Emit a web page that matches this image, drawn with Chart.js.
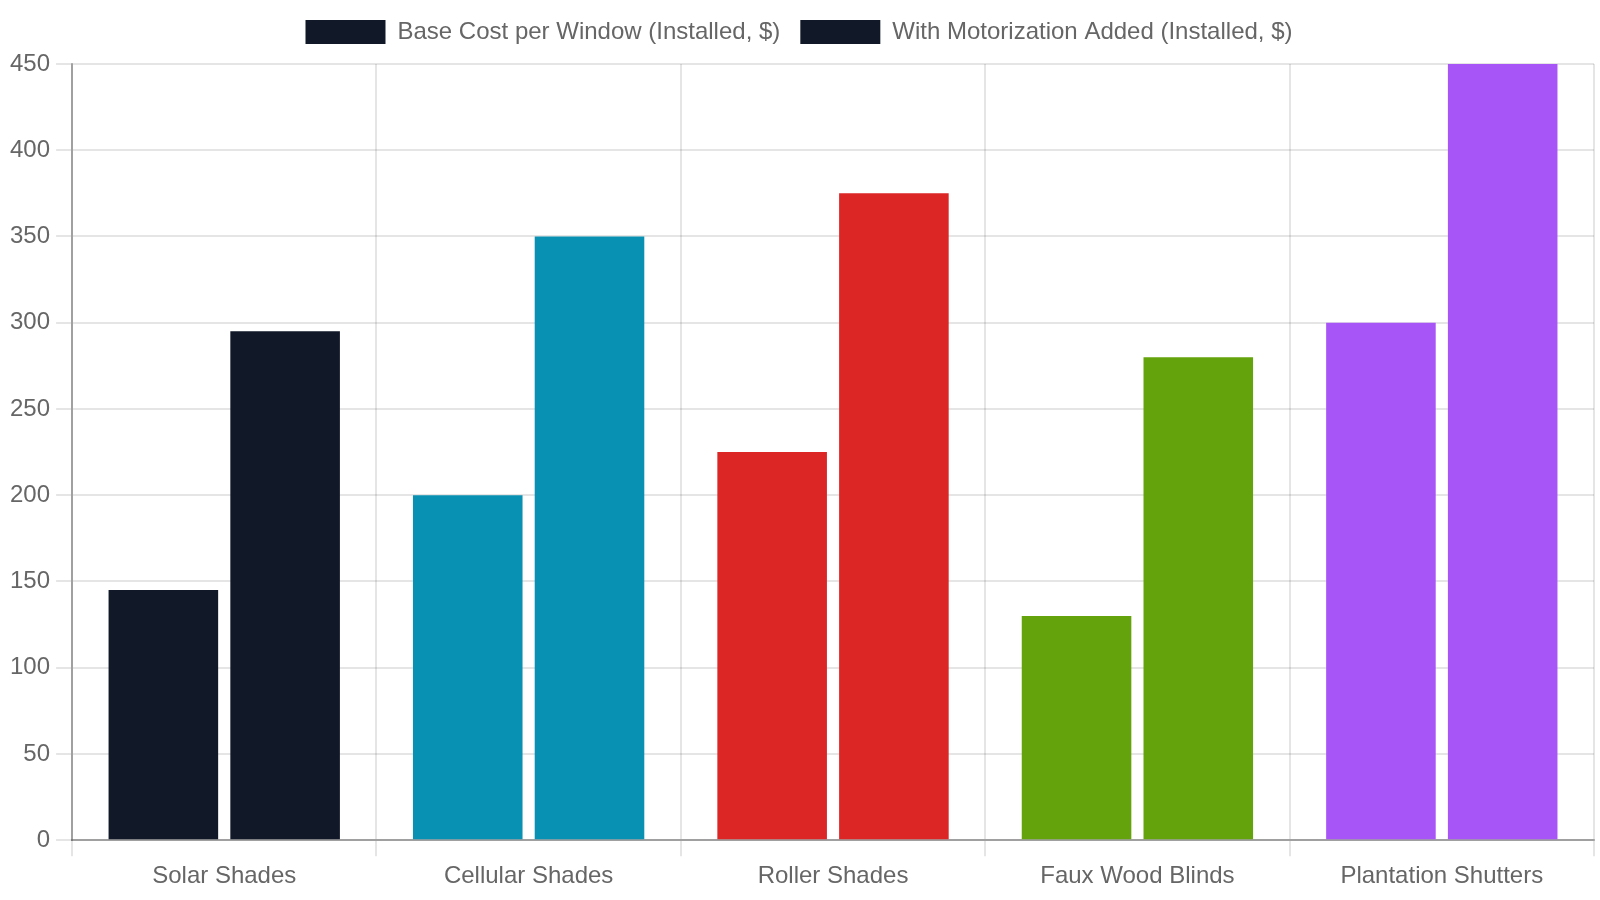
<html lang="en">
<head>
    <meta charset="UTF-8">
    <title>Window treatment cost</title>
    <script src="https://cdn.jsdelivr.net/npm/chart.js@4.4.0/dist/chart.umd.min.js"></script>
    <style>
        body { margin: 0; background: #fff; }
        #wrap { width: 1600px; height: 900px; }
    </style>
</head>
<body>
    <div id="wrap"><canvas id="chart"></canvas></div>
    <script>
        const categories = ['Solar Shades', 'Cellular Shades', 'Roller Shades', 'Faux Wood Blinds', 'Plantation Shutters'];
        const baseCost = [145, 200, 225, 130, 300];
        const motorized = [295, 350, 375, 280, 450];
        const barColors = ['#111827', '#0891b2', '#dc2626', '#65a30d', '#a855f7'];
        const yTicks = [0, 50, 100, 150, 200, 250, 300, 350, 400, 450];

        Chart.defaults.font.family = '"Liberation Sans", Arial, sans-serif';
        Chart.defaults.font.size = 24;
        Chart.defaults.color = '#666';

        // a little extra room under the legend
        const legendGap = {
            id: 'legendGap',
            beforeInit(chart) {
                const fit = chart.legend.fit;
                chart.legend.fit = function () {
                    fit.bind(chart.legend)();
                    this.height += 10;
                };
            }
        };

        const ctx = document.getElementById('chart').getContext('2d');
        const myChart = new Chart(ctx, {
            type: 'bar',
            data: {
                labels: categories,
                datasets: [{
                    label: 'Base Cost per Window (Installed, $)',
                    data: baseCost,
                    backgroundColor: barColors
                }, {
                    label: 'With Motorization Added (Installed, $)',
                    data: motorized,
                    backgroundColor: barColors
                }]
            },
            options: {
                responsive: true,
                maintainAspectRatio: false,
                animation: false,
                layout: { padding: { left: 4, right: 6, bottom: 3 } },
                plugins: {
                    legend: {
                        position: 'top',
                        labels: { boxWidth: 80, boxHeight: 24, padding: 20 }
                    },
                    tooltip: { enabled: false }
                },
                scales: {
                    x: {
                        grid: { color: 'rgba(0,0,0,0.1)', lineWidth: 2, tickLength: 16 },
                        border: { color: 'rgba(0,0,0,0.3)', width: 2 },
                        ticks: { padding: 6 }
                    },
                    y: {
                        min: 0,
                        max: yTicks[yTicks.length - 1],
                        afterBuildTicks: axis => { axis.ticks = yTicks.map(v => ({ value: v })); },
                        grid: { color: 'rgba(0,0,0,0.1)', lineWidth: 2, tickLength: 16 },
                        border: { color: 'rgba(0,0,0,0.3)', width: 2 },
                        ticks: { padding: 6 }
                    }
                }
            },
            plugins: [legendGap]
        });
    </script>
</body>
</html>
